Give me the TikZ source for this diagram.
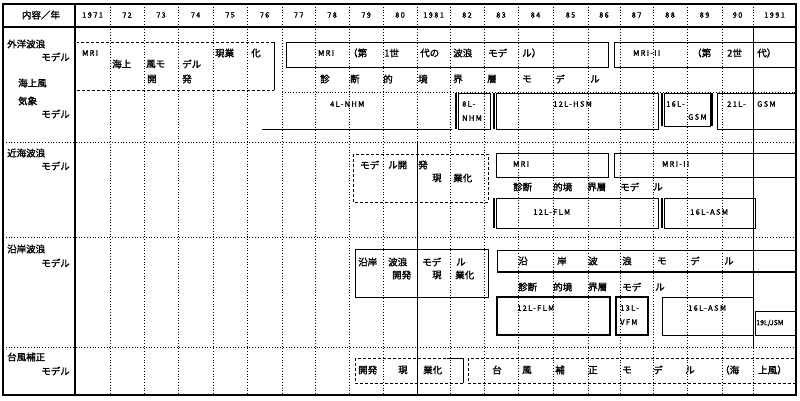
\documentclass[tikz,border=0pt]{standalone}
\usepackage{fontspec}
\newfontfamily\cjk{Noto Sans CJK JP}[FakeBold=1.6]
\newfontfamily\cjklat{Noto Sans CJK JP}[FakeBold=1.6,LetterSpace=18]
\begin{document}
\begin{tikzpicture}[x=1pt,y=-1pt,
  grid/.style={dotted, line width=0.8pt},
  frame/.style={line width=1.2pt},
  boxline/.style={line width=1pt},
  thickline/.style={line width=1.6pt},
  dboxline/.style={densely dashed, line width=0.8pt},
  jt/.style={font=\cjk\fontsize{9.5}{10}\selectfont, inner sep=0pt, anchor=west},
  lt/.style={font=\cjklat\fontsize{7.5}{8}\selectfont, inner sep=0pt, anchor=west},
  yt/.style={font=\cjklat\fontsize{7.5}{8}\selectfont, inner sep=0pt}]
\useasboundingbox (0,0) rectangle (800,400);
% grid
\foreach \xx in {110,144,178,213,247,282,315,349,383,417,450,484,518,553,588,620,653,687,722,753}
  \draw[grid] (\xx,4) -- (\xx,395);
\foreach \yy in {142,237,347}
  \draw[grid] (3,\yy) -- (796,\yy);
\draw[grid] (282,92) -- (796,92);
% solid structural lines
\draw[frame] (3,4) rectangle (796,395);
\draw[frame] (75,4) -- (75,395);
\draw[frame] (3,27) -- (796,27);
\draw[boxline] (417,142) -- (417,395);
\draw[boxline] (753,27) -- (753,347);
% header
\node[jt, anchor=center] (hd) at (41,15) {内容／年};
\foreach \xx/\yy [count=\k] in {92.5/1971,127/72,161/73,195.5/74,230/75,264.5/76,298.5/77,332/78,366/79,400/80,433.5/1981,467/82,501/83,535.5/84,570.5/85,604/86,636.5/87,670/88,704.5/89,737.5/90,774.5/1991}
  \node[yt] (yr\k) at (\xx,15) {\yy};
% left column
\node[jt] (l1) at (7,44) {外洋波浪};
\node[jt, anchor=east] (l2) at (70,57) {モデル};
\node[jt] (l3) at (18,83) {海上風};
\node[jt] (l4) at (18,101) {気象};
\node[jt, anchor=east] (l5) at (70,114) {モデル};
\node[jt] (l6) at (7,153) {近海波浪};
\node[jt, anchor=east] (l7) at (70,166) {モデル};
\node[jt] (l8) at (7,249) {沿岸波浪};
\node[jt, anchor=east] (l9) at (70,263) {モデル};
\node[jt] (l10) at (7,357) {台風補正};
\node[jt, anchor=east] (l11) at (70,371) {モデル};
% ===== section 1 =====
\draw[dboxline] (274,42) -- (77,42);
\draw[dboxline] (77,90) -- (274,90);
\draw[boxline] (274,42) -- (274,90);
\node[lt] (a1) at (82,53) {MRI};
\foreach \xx/\yy/\tt [count=\k] in {112/64/海上,146/64/風モ,182/64/デル,147/79/開,182/79/発,215/53/現業,251/53/化}
  \node[jt] (a2\k) at (\xx,\yy) {\tt};
\draw[boxline] (286,42) rectangle (608,67);
\node[lt] (b1) at (318,53) {MRI};
\foreach \xx/\tt [count=\k] in {348/（第,384/1世,420/代の,453/波浪,488/モデ,522/ル）}
  \node[jt] (b2\k) at (\xx,53) {\tt};
\draw[boxline] (796,42) -- (614,42) -- (614,67) -- (796,67);
\node[lt] (c1) at (633,53) {MRI-II};
\foreach \xx/\tt [count=\k] in {692/（第,727/2世,757/代）}
  \node[jt] (c2\k) at (\xx,53) {\tt};
\foreach \xx/\tt [count=\k] in {320/診,350/断,383/的,418/境,453/界,487/層,522/モ,555/デ,590/ル}
  \node[jt] (d\k) at (\xx,79) {\tt};
% met models
\draw[boxline] (262,129) -- (452,129);
\node[lt] (e1) at (330,104) {4L-NHM};
\draw[boxline] (458,93) rectangle (490,129);
\draw[thickline] (456,93) -- (456,129);
\node[lt] (e2) at (462,104) {8L-};
\node[lt] (e3) at (462,118) {NHM};
\draw[boxline] (496,93) rectangle (658,129);
\draw[thickline] (494,93) -- (494,129);
\node[lt] (e4) at (553,104) {12L-HSM};
\draw[boxline] (664,93) rectangle (710,126);
\draw[thickline] (662,93) -- (662,126);
\draw[thickline] (712,93) -- (712,126);
\node[lt] (e5) at (666,104) {16L-};
\node[lt] (e6) at (688,117) {GSM};
\draw[boxline] (796,93) -- (717,93) -- (717,129) -- (796,129);
\node[lt] (e7) at (727,104) {21L-};
\node[lt] (e8) at (757,104) {GSM};
% ===== section 2 =====
\draw[dboxline] (353,154) rectangle (488,202);
\foreach \xx/\yy/\tt [count=\k] in {360/165/モデ,388/165/ル開,418/165/発,432/178/現,453/178/業化}
  \node[jt] (f\k) at (\xx,\yy) {\tt};
\draw[boxline] (496,153) rectangle (608,177);
\node[lt] (g1) at (513,164) {MRI};
\draw[boxline] (796,153) -- (614,153) -- (614,177) -- (796,177);
\node[lt] (g2) at (662,164) {MRI-II};
\foreach \xx/\tt [count=\k] in {513/診断,553/的境,587/界層,620/モデ,653/ル}
  \node[jt] (h\k) at (\xx,187) {\tt};
\draw[boxline] (496,198) rectangle (658,228);
\draw[thickline] (494,198) -- (494,228);
\node[lt] (i1) at (533,212) {12L-FLM};
\draw[boxline] (664,198) rectangle (755,228);
\draw[thickline] (662,198) -- (662,228);
\node[lt] (i2) at (690,212) {16L-ASM};
% ===== section 3 =====
\draw[boxline] (355,249) rectangle (488,297);
\foreach \xx/\yy/\tt [count=\k] in {358/262/沿岸,388/262/波浪,422/262/モデ,456/262/ル,392/275/開発,432/275/現,455/275/業化}
  \node[jt] (j\k) at (\xx,\yy) {\tt};
\draw[boxline] (796,250) -- (497,250) -- (497,272);
\draw[thickline] (497,272) -- (796,272);
\foreach \xx/\tt [count=\k] in {518/沿,557/岸,588/波,622/浪,657/モ,690/デ,724/ル}
  \node[jt] (k\k) at (\xx,261) {\tt};
\foreach \xx/\tt [count=\k] in {518/診断,553/的境,588/界層,622/モデ,655/ル}
  \node[jt] (m\k) at (\xx,287) {\tt};
\draw[thickline] (497,297) rectangle (610,335);
\node[lt] (n1) at (517,308) {12L-FLM};
\draw[thickline] (616,297) rectangle (648,335);
\node[lt] (n2) at (620,308) {13L-};
\node[lt] (n3) at (620,322) {VFM};
\draw[boxline] (662,297) rectangle (753,335);
\node[lt] (n4) at (688,308) {16L-ASM};
\draw[boxline] (796,311) -- (755,311) -- (755,335) -- (796,335);
\node[font=\cjk\fontsize{7}{8}\selectfont, inner sep=0pt, anchor=west] (n5) at (756,323) {19L/JSM};
% ===== section 4 =====
\draw[dboxline] (355,358) rectangle (463,383);
\draw[boxline] (447,358) -- (463,358) -- (463,383);
\node[jt] (p1) at (358,370) {開発};
\node[jt] (p2) at (398,370) {現};
\node[jt] (p3) at (423,370) {業化};
\draw[dboxline] (468,358) rectangle (796,383);
\foreach \xx/\tt [count=\k] in {492/台,522/風,555/補,588/正,622/モ,653/デ,685/ル,720/（海,758/上風）}
  \node[jt] (q\k) at (\xx,370) {\tt};
\end{tikzpicture}
\end{document}
